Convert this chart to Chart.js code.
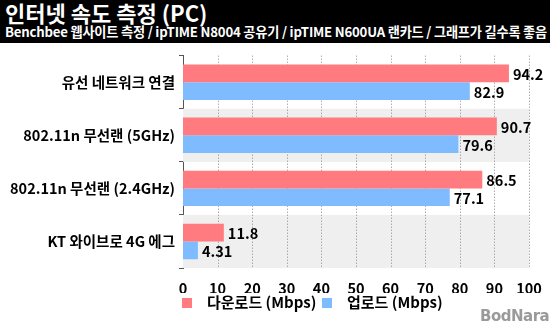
<!DOCTYPE html>
<html>
<head>
<meta charset="utf-8">
<script src="https://cdn.jsdelivr.net/npm/chart.js@4"></script>
<style>
  body { margin: 0; width: 550px; height: 330px; background: #fff; overflow: hidden; position: relative;
         font-family: 'Noto Sans CJK KR', 'Noto Sans', sans-serif; }
  #header { position: absolute; left: 0; top: 0; width: 550px; height: 43px; background: #000; color: #fff; }
  #title { position: absolute; left: 5px; top: -4px; font-size: 22px; font-weight: bold; white-space: nowrap; }
  #subtitle { position: absolute; left: 5px; top: 22px; font-size: 13.2px; font-weight: bold; white-space: nowrap; letter-spacing: -0.2px; }
  #wrap { position: absolute; left: 0; top: 43px; width: 550px; height: 250px; }
  .box { position: absolute; top: 298px; width: 10px; height: 10px; }
  .lbl { position: absolute; top: 292px; font-size: 15px; line-height: 20px; font-weight: bold; color: #000; white-space: nowrap; }
  #mark { position: absolute; left: 480px; top: 307px; font-size: 15px; font-weight: 900; color: #9a9a9a; font-family: 'DejaVu Sans', sans-serif; letter-spacing: -0.5px; }
</style>
</head>
<body>
<div id="header">
  <div id="title">인터넷 속도 측정 (PC)</div>
  <div id="subtitle">Benchbee 웹사이트 측정 / ipTIME N8004 공유기 / ipTIME N600UA 랜카드 / 그래프가 길수록 좋음</div>
</div>
<div id="wrap"><canvas id="chart" width="550" height="250"></canvas></div>
<div id="legend"></div>
<div id="mark">BodNara</div>
<script>
const categories = ['유선 네트워크 연결', '802.11n 무선랜 (5GHz)', '802.11n 무선랜 (2.4GHz)', 'KT 와이브로 4G 에그'];
const download = [94.2, 90.7, 86.5, 11.8];
const upload = [82.9, 79.6, 77.1, 4.31];
const seriesNames = ['다운로드 (Mbps)', '업로드 (Mbps)'];
const colors = ['#ff7b7f', '#7fbcff'];
const xTicks = [0, 10, 20, 30, 40, 50, 60, 70, 80, 90, 100];

const font = "'Noto Sans CJK KR', 'Noto Sans', sans-serif";

// legend
const legendEl = document.getElementById('legend');
const legendX = [182, 322];
seriesNames.forEach((name, i) => {
    const box = document.createElement('div');
    box.className = 'box';
    box.style.left = legendX[i] + 'px';
    box.style.background = colors[i];
    const lbl = document.createElement('div');
    lbl.className = 'lbl';
    lbl.style.left = (legendX[i] + 25) + 'px';
    lbl.textContent = name;
    legendEl.append(box, lbl);
});

// gray band behind every second category, then dotted vertical grid
const bandPlugin = {
    id: 'bands',
    beforeDatasetsDraw(chart) {
        const { ctx, chartArea, scales } = chart;
        const y = scales.y;
        const half = (y.getPixelForValue(1) - y.getPixelForValue(0)) / 2;
        ctx.save();
        ctx.fillStyle = '#efefef';
        categories.forEach((c, i) => {
            if (i % 2 === 1) {
                const cy = y.getPixelForValue(i);
                ctx.fillRect(chartArea.left, cy - half, chartArea.right - chartArea.left, half * 2);
            }
        });
        // dotted grid
        ctx.strokeStyle = '#888';
        ctx.lineWidth = 1;
        ctx.setLineDash([1, 2]);
        xTicks.forEach(v => {
            if (v === 0) return;
            const px = Math.round(scales.x.getPixelForValue(v)) + 0.5;
            ctx.beginPath();
            ctx.moveTo(px, chartArea.top);
            ctx.lineTo(px, chartArea.bottom);
            ctx.stroke();
        });
        ctx.restore();
    }
};

// value labels at end of bars
const valuePlugin = {
    id: 'values',
    afterDatasetsDraw(chart) {
        const ctx = chart.ctx;
        ctx.save();
        ctx.font = 'bold 14.5px ' + font;
        ctx.fillStyle = '#000';
        ctx.textBaseline = 'middle';
        chart.data.datasets.forEach((ds, di) => {
            chart.getDatasetMeta(di).data.forEach((bar, i) => {
                ctx.fillText(String(ds.data[i]), bar.x + 4, bar.y + 1);
            });
        });
        ctx.restore();
    }
};

new Chart(document.getElementById('chart'), {
    type: 'bar',
    data: {
        labels: categories,
        datasets: [
            { label: seriesNames[0], data: download, backgroundColor: colors[0] },
            { label: seriesNames[1], data: upload, backgroundColor: colors[1] }
        ]
    },
    options: {
        indexAxis: 'y',
        responsive: false,
        animation: false,
        layout: { padding: { top: 9, right: 21, bottom: 0, left: 0 } },
        datasets: { bar: { categoryPercentage: 0.667, barPercentage: 1.0 } },
        plugins: { legend: { display: false }, tooltip: { enabled: false } },
        scales: {
            x: {
                min: 0, max: 100,
                afterBuildTicks: (s) => { s.ticks = xTicks.map(v => ({ value: v })); },
                afterFit: (s) => { s.height = 25; },
                border: { display: false },
                grid: { display: false },
                ticks: { color: '#000', padding: 4, font: { family: font, size: 14.5, weight: 'bold' } }
            },
            y: {
                afterFit: (s) => { s.width = 183; },
                border: { display: true, color: '#555', width: 1 },
                grid: { offset: true, drawOnChartArea: false, tickLength: 4, color: '#555' },
                ticks: { color: '#000', padding: 4, font: { family: font, size: 14.5, weight: 'bold' } }
            }
        }
    },
    plugins: [bandPlugin, valuePlugin]
});
</script>
</body>
</html>
